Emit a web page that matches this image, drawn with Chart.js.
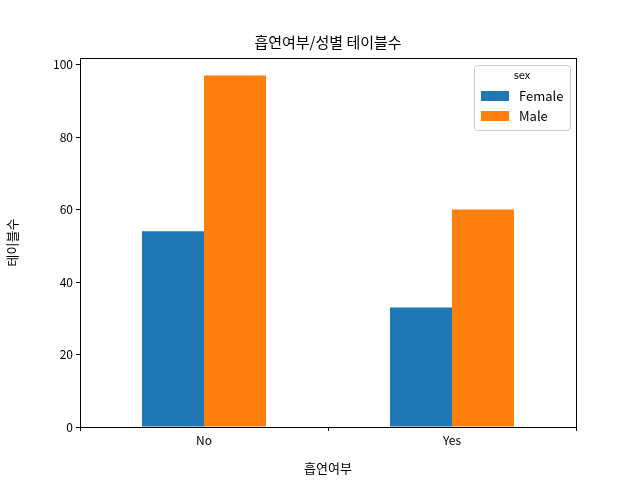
<!DOCTYPE html>
<html>
<head>
<meta charset="utf-8">
<script src="https://cdn.jsdelivr.net/npm/chart.js@4/dist/chart.umd.min.js"></script>
<style>
  html, body { margin: 0; background: #fff; }
  #wrap { width: 640px; height: 480px; }
</style>
</head>
<body>
<div id="wrap"><canvas id="c" width="640" height="480"></canvas></div>
<script>
const FONT = "'Noto Sans CJK KR', 'DejaVu Sans', sans-serif";
const categories = ['No', 'Yes'];
const female = [54, 33];
const male = [97, 60];
const yTicks = [0, 20, 40, 60, 80, 100];

// frame, title and in-axes legend, drawn like matplotlib
const extras = {
  id: 'extras',
  afterDraw(chart) {
    const { ctx, chartArea: a } = chart;
    ctx.save();
    ctx.strokeStyle = '#000';
    ctx.lineWidth = 1;
    ctx.strokeRect(a.left + 0.5, a.top + 0.5, a.right - a.left, a.bottom - a.top);

    ctx.fillStyle = '#000';
    ctx.font = '15px ' + FONT;
    ctx.textAlign = 'center';
    ctx.textBaseline = 'bottom';
    ctx.fillText('흡연여부/성별 테이블수', (a.left + a.right) / 2, a.top - 8);

    // legend box
    const bx = a.right - 102, by = a.top + 7, bw = 96, bh = 65;
    ctx.fillStyle = 'rgba(255,255,255,0.8)';
    ctx.strokeStyle = '#ccc';
    ctx.beginPath();
    ctx.roundRect(bx + 0.5, by + 0.5, bw, bh, 3);
    ctx.fill();
    ctx.stroke();
    ctx.fillStyle = '#000';
    ctx.font = '11px ' + FONT;
    ctx.textBaseline = 'middle';
    ctx.fillText('sex', bx + bw / 2, by + 10);
    ctx.textAlign = 'left';
    ctx.font = '13px ' + FONT;
    chart.data.datasets.forEach((ds, i) => {
      const y = by + 31 + i * 20;
      ctx.fillStyle = ds.backgroundColor;
      ctx.fillRect(bx + 7, y - 5, 28, 10);
      ctx.fillStyle = '#000';
      ctx.fillText(ds.label, bx + 45, y);
    });
    ctx.restore();
  }
};

new Chart(document.getElementById('c'), {
  type: 'bar',
  data: {
    labels: categories,
    datasets: [
      { label: 'Female', data: female, backgroundColor: '#1f77b4' },
      { label: 'Male', data: male, backgroundColor: '#ff7f0e' }
    ]
  },
  options: {
    responsive: false,
    animation: false,
    devicePixelRatio: 1,
    layout: { padding: { top: 58, right: 64, left: 0, bottom: 0 } },
    datasets: { bar: { categoryPercentage: 0.5, barPercentage: 1 } },
    plugins: { legend: { display: false }, tooltip: { enabled: false } },
    scales: {
      x: {
        afterFit: s => { s.height = 53; },
        grid: { display: true, drawOnChartArea: false, tickLength: 4, color: '#000' },
        border: { color: '#000' },
        ticks: { color: '#000', font: { family: FONT, size: 12 }, padding: 2 },
        title: { display: true, text: '흡연여부', color: '#000', font: { family: FONT, size: 13 }, padding: { top: 2 } }
      },
      y: {
        min: 0,
        max: 101.85,
        afterFit: s => { s.width = 80; },
        afterBuildTicks: s => { s.ticks = yTicks.map(v => ({ value: v })); },
        grid: { display: true, drawOnChartArea: false, tickLength: 4, color: '#000' },
        border: { color: '#000' },
        ticks: { color: '#000', font: { family: FONT, size: 12 }, padding: 3 },
        title: { display: true, text: '테이블수', color: '#000', font: { family: FONT, size: 13 }, padding: { bottom: 6 } }
      }
    }
  },
  plugins: [extras]
});
</script>
</body>
</html>
